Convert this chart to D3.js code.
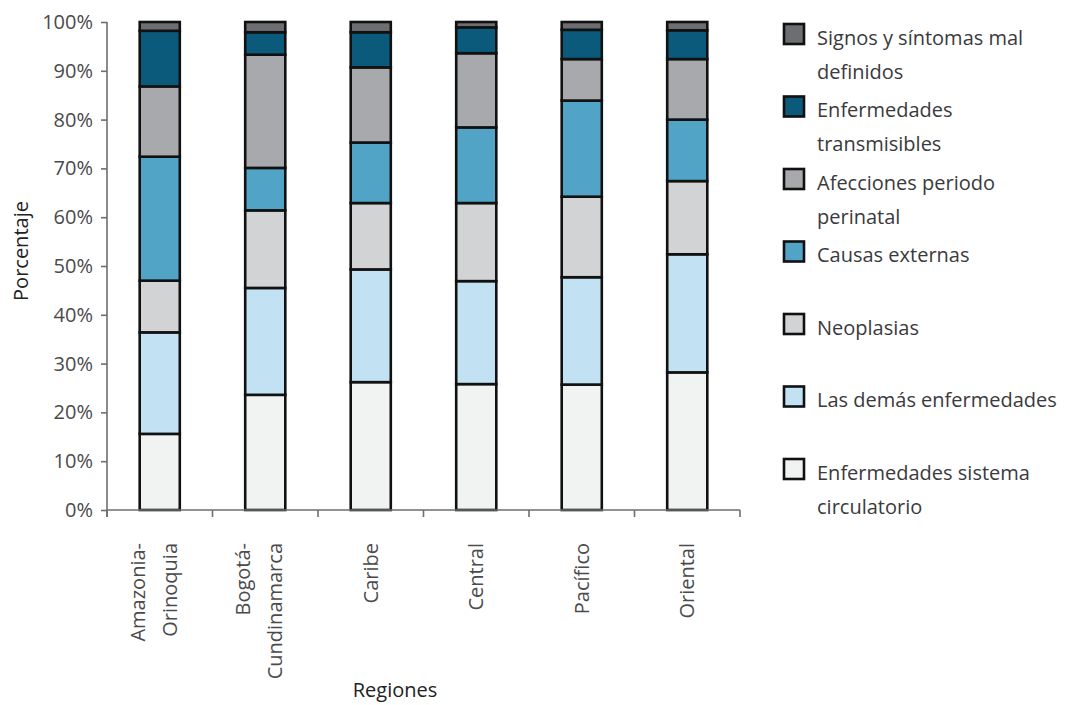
<!DOCTYPE html>
<html><head><meta charset="utf-8">
<script src="https://cdn.jsdelivr.net/npm/d3@7"></script>
<style>
html,body{margin:0;padding:0;background:#fff;}
svg{display:block;font-family:"Open Sans",sans-serif;}
</style></head>
<body>
<svg id="chart" width="1065" height="705"></svg>
<script>
const regions = ["Amazonia-\nOrinoquia","Bogotá-\nCundinamarca","Caribe","Central","Pacífico","Oriental"];
const yTicks = [0,10,20,30,40,50,60,70,80,90,100];

// series, bottom to top of stack
const circulatorio   = [15.6, 23.6, 26.2, 25.8, 25.7, 28.2];
const lasDemas       = [20.8, 21.9, 23.1, 21.1, 22.0, 24.2];
const neoplasias     = [10.6, 15.9, 13.6, 16.0, 16.5, 15.0];
const causasExternas = [25.4,  8.7, 12.4, 15.5, 19.7, 12.6];
const afecciones     = [14.4, 23.2, 15.4, 15.2,  8.5, 12.4];
const transmisibles  = [11.4,  4.6,  7.2,  5.3,  6.0,  5.9];
const signos         = [ 1.8,  2.1,  2.1,  1.1,  1.6,  1.7];

const seriesNames = ["Enfermedades sistema circulatorio","Las demás enfermedades","Neoplasias","Causas externas","Afecciones periodo perinatal","Enfermedades transmisibles","Signos y síntomas mal definidos"];
const legendLabels = [
  ["Signos y síntomas mal","definidos"],
  ["Enfermedades","transmisibles"],
  ["Afecciones periodo","perinatal"],
  ["Causas externas"],
  ["Neoplasias"],
  ["Las demás enfermedades"],
  ["Enfermedades sistema","circulatorio"]
];
const seriesColors = ["#f1f2f2","#c2e2f4","#d1d3d4","#52a4c7","#a7a9ac","#0b5a7c","#6d6e71"];

const seriesData = [circulatorio, lasDemas, neoplasias, causasExternas, afecciones, transmisibles, signos];
const keys = seriesNames;
const table = regions.map((r,i) => {
  const o = {region: r};
  keys.forEach((k,j) => o[k] = seriesData[j][i]);
  return o;
});

const svg = d3.select("#chart");
const mLeft = 107, mRight = 740, mTop = 22, mBottom = 510;

const x = d3.scaleBand().domain(regions).range([mLeft, mRight]).paddingInner(0.62).paddingOuter(0.31);
const y = d3.scaleLinear().domain([0,100]).range([mBottom, mTop]);
const color = d3.scaleOrdinal().domain(keys).range(seriesColors);

const stacked = d3.stack().keys(keys)(table);

// bars
svg.append("g").selectAll("g").data(stacked).join("g")
  .attr("fill", d => color(d.key))
  .selectAll("rect").data(d => d).join("rect")
  .attr("x", d => x(d.data.region))
  .attr("width", x.bandwidth())
  .attr("y", d => y(d[1]))
  .attr("height", d => y(d[0]) - y(d[1]))
  .attr("stroke", "#111")
  .attr("stroke-width", 2.6);

const axisColor = "#6d6e71";
const textColor = "#4a4a4c";

// y axis
const yAxis = svg.append("g").attr("transform", `translate(${mLeft},0)`)
  .call(d3.axisLeft(y).tickValues(yTicks).tickFormat(d => d + "%").tickSize(6).tickPadding(8));
yAxis.select(".domain").attr("stroke", axisColor).attr("stroke-width", 1.6)
  .attr("d", `M0,${mTop}V${mBottom + 7}`);
yAxis.selectAll(".tick line").attr("stroke", axisColor).attr("stroke-width", 1.6);
yAxis.selectAll(".tick text").attr("fill", textColor).style("font-size", "20px")
  .style("font-family", "'Open Sans',sans-serif");

// x axis line + boundary ticks
const boundaries = d3.range(regions.length + 1).map(i => x.range()[0] + i * x.step());
const xg = svg.append("g");
xg.append("line").attr("x1", mLeft).attr("x2", mRight).attr("y1", mBottom).attr("y2", mBottom)
  .attr("stroke", axisColor).attr("stroke-width", 1.6);
xg.selectAll("line.tk").data(boundaries).join("line").attr("class","tk")
  .attr("x1", d => d).attr("x2", d => d).attr("y1", mBottom).attr("y2", mBottom + 7)
  .attr("stroke", axisColor).attr("stroke-width", 1.6);

// x labels rotated
const xl = svg.append("g");
regions.forEach(r => {
  const lines = r.split("\n");
  const cx = x(r) + x.bandwidth()/2;
  const offs = lines.length === 1 ? [7] : [-15, 17];
  lines.forEach((ln, k) => {
    const bx = cx + offs[k];
    xl.append("text")
      .attr("transform", `translate(${bx},${mBottom + 33}) rotate(-90)`)
      .attr("text-anchor", "end")
      .attr("fill", textColor)
      .style("font-size", "20px")
      .text(ln);
  });
});

// axis titles
svg.append("text").attr("transform", `translate(28,251) rotate(-90)`)
  .attr("text-anchor", "middle").attr("fill", "#222").style("font-size", "20px").text("Porcentaje");
svg.append("text").attr("x", 395).attr("y", 697)
  .attr("text-anchor", "middle").attr("fill", "#222").style("font-size", "20px").text("Regiones");

// legend
const legendOrder = keys.slice().reverse();
const lg = svg.append("g");
legendOrder.forEach((k, i) => {
  const ty = 24 + i * 72.5;
  lg.append("rect").attr("x", 784).attr("y", ty).attr("width", 20).attr("height", 20)
    .attr("fill", color(k)).attr("stroke", "#111").attr("stroke-width", 2.6);
  legendLabels[i].forEach((ln, j) => {
    lg.append("text").attr("x", 817).attr("y", ty + 20.5 + j * 34)
      .attr("fill", "#3a3a3c").style("font-size", "20px").text(ln);
  });
});
</script>
</body></html>
